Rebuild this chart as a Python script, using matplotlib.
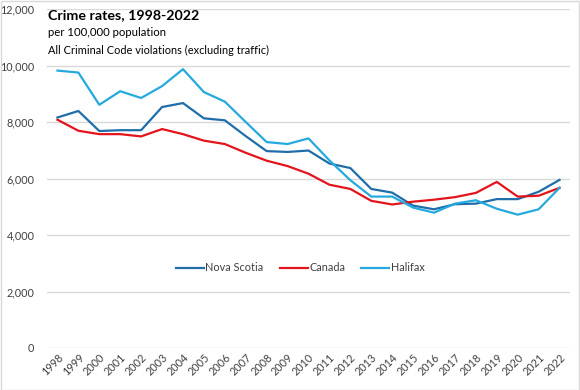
import matplotlib
matplotlib.use('Agg')
import matplotlib.pyplot as plt
from matplotlib.ticker import FuncFormatter

plt.rcParams['font.family'] = ['Lato', 'DejaVu Sans']

years = list(range(1998, 2023))
nova_scotia = [8160, 8390, 7680, 7710, 7710, 8530, 8670, 8130, 8060, 7500,
               6970, 6940, 6990, 6530, 6370, 5630, 5500, 5040, 4910, 5090,
               5110, 5270, 5270, 5530, 5950]
canada = [8080, 7690, 7570, 7570, 7490, 7750, 7570, 7340, 7220, 6910,
          6630, 6440, 6170, 5780, 5630, 5210, 5080, 5180, 5250, 5340,
          5490, 5880, 5360, 5390, 5670]
halifax = [9820, 9750, 8610, 9090, 8850, 9270, 9870, 9060, 8720, 8000,
           7290, 7220, 7420, 6640, 5940, 5360, 5360, 4970, 4790, 5110,
           5230, 4930, 4720, 4910, 5670]

W, H = 580, 390
fig = plt.figure(figsize=(W / 100, H / 100), dpi=100)
ax = fig.add_axes([47 / W, 1 - 348 / H, 523 / W, 339 / H])

ax.plot(years, nova_scotia, color='#1f6eaa', lw=1.6, label='Nova Scotia')
ax.plot(years, canada, color='#e3141b', lw=1.6, label='Canada')
ax.plot(years, halifax, color='#25a9de', lw=1.6, label='Halifax')

ax.set_xlim(1997.5, 2022.5)
ax.set_ylim(0, 12000)
ax.set_yticks(range(0, 12001, 2000))
ax.yaxis.set_major_formatter(FuncFormatter(lambda v, p: f'{int(v):,}'))
ax.set_xticks(years)
ax.set_xticklabels([str(y) for y in years], rotation=45, ha='right',
                   rotation_mode='anchor', fontsize=7.8, color='#404040')
ax.tick_params(axis='y', labelsize=7.8, labelcolor='#404040', length=0, pad=9)
ax.tick_params(axis='x', length=0, pad=3)
ax.grid(axis='y', color='#d9d9d9', lw=1)
ax.set_axisbelow(True)
for s in ax.spines.values():
    s.set_visible(False)

ax.legend(loc='center', bbox_to_anchor=(0.484, 0.236), ncol=3, frameon=False,
          fontsize=7.8, handlelength=2.6, handletextpad=0.1, columnspacing=1.5,
          labelcolor='#404040')

fig.text(48 / W, 1 - 15 / H, 'Crime rates, 1998-2022', fontsize=10.3,
         fontweight='bold', va='center', color='black')
fig.text(48 / W, 1 - 33 / H, 'per 100,000 population', fontsize=8.2,
         va='center', color='black')
fig.text(48 / W, 1 - 50 / H, 'All Criminal Code violations (excluding traffic)',
         fontsize=7.9, va='center', color='black')

# thin frame round the whole chart
fig.patches.append(plt.Rectangle((0.5 / W, 0.5 / H), 1 - 1.5 / W, 1 - 1.5 / H,
                                 transform=fig.transFigure, fill=False,
                                 edgecolor='#d9d9d9', lw=1))

fig.savefig('out.png', dpi=100)
